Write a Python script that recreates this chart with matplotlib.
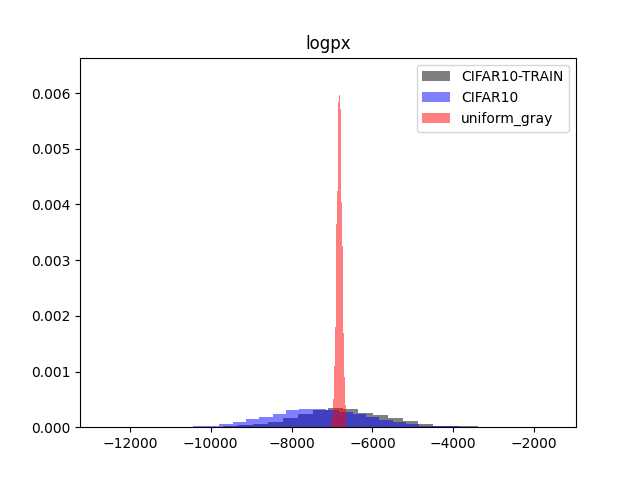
import numpy as np
import matplotlib
matplotlib.use('Agg')
import matplotlib.pyplot as plt

# density histograms of log p(x)

# CIFAR10-TRAIN: 30 bins
train_start, train_width = -12675, 371.77
train_heights = [0, 0, 0, 0, 0, 0,
                 0.000005, 0.00001, 0.00002, 0.00004, 0.00006, 0.0001,
                 0.00016, 0.00024, 0.00031, 0.00035, 0.00032, 0.00026,
                 0.00022, 0.00016, 0.00011, 0.000066, 0.00003, 0.00002,
                 0.000015, 0, 0, 0, 0, 0]

# CIFAR10 (test)
test_start, test_width = -10447, 330
test_heights = [0.000015, 0.00002, 0.00005, 0.0001, 0.00014, 0.00019,
                0.00024, 0.0003, 0.00033, 0.00032, 0.0003, 0.00028,
                0.00024, 0.00018, 0.00013, 0.0001, 0.000055, 0.00003,
                0.00002, 0.000015]

# uniform_gray
gray_start, gray_width = -7025, 24.7
gray_heights = [0.0001, 0.0002, 0.0005, 0.0011, 0.0018, 0.00365, 0.00424,
                0.00584, 0.00596, 0.00571, 0.00404, 0.00325, 0.0017,
                0.0009, 0.0004]


def edges_for(start, width, heights):
    return start + width * np.arange(len(heights) + 1)


fig, ax = plt.subplots()

series = [
    (train_start, train_width, train_heights, 'k', 'CIFAR10-TRAIN'),
    (test_start, test_width, test_heights, 'b', 'CIFAR10'),
    (gray_start, gray_width, gray_heights, 'r', 'uniform_gray'),
]

for start, width, heights, col, lab in series:
    edges = edges_for(start, width, heights)
    ax.hist(edges[:-1], bins=edges, weights=heights, color=col,
            alpha=0.5, label=lab)

ax.set_ylim(0, 0.006638)
ax.set_title('logpx')
ax.legend(loc='upper right')

fig.savefig('out.png', dpi=100)
plt.close()
